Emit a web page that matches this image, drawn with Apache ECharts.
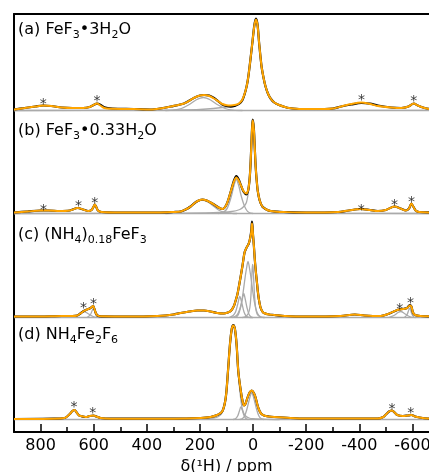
<!DOCTYPE html>
<html>
<head>
<meta charset="utf-8">
<script src="https://cdn.jsdelivr.net/npm/echarts@6/dist/echarts.min.js"></script>
<style>
  html, body { margin: 0; padding: 0; background: #fff; }
  #chart { width: 429px; height: 472px; }
</style>
</head>
<body>
<div id="chart"></div>
<script>
// ppm / intensity pairs

// (a) FeF3.3H2O
var fitA = [[900,1],[860,2.5],[820,4],[790,5],[760,4.5],[720,3],[680,2.5],[640,2.5],[615,3.5],[600,5.5],[588,7],[575,5],[560,2.5],[530,1.8],[450,1.5],[386,1],[350,2],[310,4],[260,7],[223,12.5],[200,15],[185,15.5],[165,14.5],[147,12],[130,9],[116,6.5],[100,5.3],[84,5],[65,5.8],[53,7],[40,11],[28,20],[20,30],[13,44],[3,67],[-5,85],[-11,91],[-17,85],[-23,67],[-32,44],[-40,32],[-47,24],[-56,17],[-66,12],[-80,8],[-98,5.5],[-120,3.5],[-135,2.5],[-182,1.5],[-270,1.5],[-300,2],[-332,4],[-370,6.5],[-408,8],[-440,6.5],[-470,4.5],[-520,3],[-558,2.5],[-585,4],[-605,7],[-620,5],[-646,2.5],[-665,1.5],[-700,0.8]];
var expA = [[900,1],[860,2.5],[820,4],[790,5],[760,4.5],[720,3],[680,2.5],[640,2.5],[615,3.5],[600,5.5],[588,6.8],[575,5.8],[560,3.2],[530,2],[450,1.5],[386,1],[350,2],[310,4],[260,7],[223,12.5],[200,15],[185,15.5],[165,15],[147,12.6],[130,9],[116,6],[100,4.5],[84,3.8],[65,5],[53,6.5],[40,10.5],[28,20],[20,30],[13,44],[3,67],[-5,85.5],[-11,92],[-17,85.5],[-23,67],[-32,44],[-40,32],[-47,24],[-56,17],[-66,12],[-80,8],[-98,5.5],[-120,3.5],[-135,2.5],[-182,1.5],[-270,1.5],[-300,2],[-332,4],[-370,6],[-408,7.5],[-440,6.8],[-470,5],[-520,3],[-558,2.5],[-585,4],[-605,7],[-620,5],[-646,2.5],[-665,1.5],[-700,0.8]];
var compA = [
  [[900,0],[400,0.3],[300,0.5],[200,1],[100,3.5],[60,6],[40,10],[28,19],[20,29],[13,43],[3,66],[-5,84],[-11,90],[-17,84],[-23,66],[-32,43],[-40,31],[-47,23],[-56,16],[-66,11.5],[-80,7.5],[-98,5],[-135,2.3],[-200,1],[-300,0.4],[-700,0]],
  [[330,0],[300,0.4],[270,2],[240,6],[215,10.5],[187,13],[160,10.5],[135,6],[105,2],[75,0.4],[40,0]]
];
var starsA = [[790,10.5],[588,13],[-408,14],[-605,13]];

// (b) FeF3.0.33H2O
var fitB = [[900,1],[850,2],[800,3],[770,3],[730,2.5],[690,3],[660,5.5],[640,4],[620,2.5],[608,3.5],[600,7],[596,9],[591,7],[584,3],[570,1.5],[500,1],[350,1],[300,1.5],[272,2],[250,4.5],[235,7],[215,11.5],[200,13.5],[191,14],[175,13],[160,11],[147,9],[130,6],[116,4.5],[100,9],[84,22],[72,32],[63,36],[54,33],[44,27],[35,22],[25,20],[20,22],[16,27],[12,38],[9,52],[6,72],[3,88],[1,93],[-3,84],[-6,68],[-10,46],[-14,32],[-18,22],[-25,13],[-35,7],[-50,4],[-66,2.5],[-90,1.8],[-115,1.5],[-200,1],[-320,1.5],[-360,3],[-405,4.5],[-440,3.5],[-470,2.5],[-500,3.5],[-532,7],[-555,5],[-575,3],[-587,5],[-596,10],[-603,7],[-612,3],[-625,1.5],[-700,1]];
var expB = [[900,1],[850,2],[800,3],[770,3],[730,2.5],[690,3],[660,5.5],[640,4],[620,2.5],[608,3.5],[600,7],[596,9],[591,7],[584,3],[570,1.5],[500,1],[350,1],[300,1.5],[272,2],[250,4.5],[235,7],[215,11.5],[200,13.5],[191,14],[175,13],[160,11],[147,9],[130,6],[116,4.5],[100,9],[84,22],[72,33],[63,37.5],[54,34],[44,27],[35,21.5],[25,19],[20,21.5],[16,27],[12,38],[9,52],[6,72],[3,89],[1,94],[-3,85],[-6,68],[-10,46],[-14,32],[-18,22],[-25,13],[-35,7],[-50,4],[-66,2.5],[-90,1.8],[-115,1.5],[-200,1],[-320,1.5],[-360,3],[-405,4.5],[-440,3.5],[-470,2.5],[-500,3.5],[-532,7],[-555,5],[-575,3],[-587,5],[-596,10],[-603,7],[-612,3],[-625,1.5],[-700,1]];
var compB = [
  [[900,0],[300,0.3],[150,0.8],[80,2],[50,4],[35,7],[25,11],[16,24],[12,36],[9,50],[6,70],[3,86],[1,91],[-3,83],[-6,67],[-10,45],[-14,31],[-18,21],[-25,12],[-35,6.5],[-50,3.5],[-66,2],[-100,1],[-200,0.4],[-700,0]],
  [[130,0],[115,1],[100,4],[90,10],[80,19],[72,28],[63,34],[54,28],[46,19],[36,10],[26,4],[15,1],[0,0]],
  [[330,0],[300,0.5],[270,2.7],[240,6.8],[215,11],[192,13.5],[170,11.5],[150,7.6],[130,3.5],[110,1.3],[80,0.2],[60,0]]
];
var starsB = [[789,7],[657,11],[596,14],[-407,7],[-532,12],[-596,15]];

// (c) (NH4)0.18FeF3
var fitC = [[900,1],[800,1],[720,1.5],[680,1.5],[662,2],[650,4],[637,6.5],[625,8],[612,9.5],[602,11.5],[598,9],[592,4.5],[586,2],[570,1.2],[450,1],[360,1.5],[330,2],[300,3],[273,4.5],[240,6],[210,7],[185,7],[160,6],[135,4.5],[110,4],[95,5],[84,6.5],[72,11.5],[66,16.5],[59,23],[53,31.5],[46,42],[40,51.5],[32,65],[26,69],[21,71.5],[16,74],[12,78],[8,83],[6,88],[4,94],[2,90],[0,82],[-3,72],[-6,60],[-10,47],[-15,34],[-18,26],[-22,18],[-28,10],[-35,6],[-41,4.5],[-60,3],[-80,2.5],[-120,1.5],[-200,1],[-330,1.5],[-383,3],[-420,2],[-480,1.5],[-508,3.5],[-530,6],[-549,8],[-565,8.5],[-580,9.5],[-590,12],[-596,11],[-602,5],[-610,2.5],[-630,1.5],[-700,1]];
var expC = [[900,1],[800,1],[720,1.5],[680,1.5],[662,2],[650,4],[637,6.5],[625,8],[612,9.5],[602,11.5],[598,9],[592,4.5],[586,2],[570,1.2],[450,1],[360,1.5],[330,2],[300,3],[273,4.5],[240,6],[210,7],[185,7],[160,6],[135,4.5],[110,4],[95,5],[84,6.5],[72,11.5],[66,16.5],[59,23],[53,31.5],[46,42],[40,51.5],[32,65],[26,69],[21,71.5],[16,74],[12,78],[8,84],[6,89],[4,96],[2,91],[0,82],[-3,72],[-6,60],[-10,47],[-15,34],[-18,26],[-22,18],[-28,10],[-35,6],[-41,4.5],[-60,3],[-80,2.5],[-120,1.5],[-200,1],[-330,1.5],[-383,3],[-420,2],[-480,1.5],[-508,3.5],[-530,6],[-549,8],[-565,8.5],[-580,9.5],[-590,12.5],[-596,11],[-602,5],[-610,2.5],[-630,1.5],[-700,1]];
var compC = [
  [[40,0],[28,1],[18,4],[12,10],[8,22],[5,40],[2,53],[0,50],[-3,35],[-6,20],[-10,9],[-16,3],[-28,0.5],[-40,0]],
  [[80,0],[65,1.5],[55,5],[45,13],[38,24],[32,36],[26,47],[19,56],[12,47],[6,36],[0,24],[-7,13],[-17,4],[-30,0.5],[-45,0]],
  [[90,0],[75,2],[66,5.5],[58,13],[50,21],[42,14],[34,5.5],[26,1.5],[15,0.2],[0,0]],
  [[65,0],[55,3],[47,10],[40,19],[35,24],[30,19],[23,10],[15,3],[5,0]],
  [[680,0],[662,2],[648,5],[637,6],[622,4],[606,1.5],[590,0]],
  [[625,0],[612,3],[604,8],[600,9],[594,4],[586,0.5],[578,0]],
  [[-510,0],[-530,2],[-546,5],[-556,6],[-570,4],[-585,1.5],[-600,0]],
  [[-570,0],[-580,3],[-587,8],[-591,9],[-597,4],[-605,0.5],[-612,0]]
];
var starsC = [[638,13],[601,17.5],[-552,12.5],[-593,18]];

// (d) NH4Fe2F6
var fitD = [[900,0.5],[750,0.8],[710,1.5],[700,3],[688,6],[680,8.5],[672,9.5],[664,7],[655,4],[649,3.5],[630,2.5],[615,3.5],[601,4],[590,3],[574,1.5],[536,0.8],[300,0.8],[197,1.5],[160,2.5],[135,4.5],[116,8],[103,21.5],[94.5,48],[87,75],[80,91],[74,94],[68,90],[62,75],[55.5,48],[47,30],[40,19],[34,14],[28,16],[21.5,21.5],[13,27],[5,29],[-3,26.5],[-10,21.5],[-16,15],[-22,10],[-30,6],[-41,4],[-60,3],[-79,2.5],[-141,1.5],[-200,1],[-470,1],[-490,2.5],[-502,5.5],[-512,8],[-523,9],[-533,7],[-543,4.5],[-564,3.5],[-582,4],[-596,4.5],[-610,3],[-627,2],[-658,1],[-700,0.8]];
var expD = [[900,0.5],[750,0.8],[710,1.5],[700,3],[688,6],[680,8.5],[672,9.5],[664,7],[655,4],[649,3.5],[630,2.5],[615,3.5],[601,4],[590,3],[574,1.5],[536,0.8],[300,0.8],[197,1.5],[160,2.5],[135,4.5],[116,8],[103,21.5],[94.5,48],[87,75],[80,91],[74,94.5],[68,90],[62,75],[55.5,48],[47,30],[40,19],[34,14],[28,16],[21.5,21.5],[13,27],[5,29],[-3,26.5],[-10,21.5],[-16,15],[-22,10],[-30,6],[-41,4],[-60,3],[-79,2.5],[-141,1.5],[-200,1],[-470,1],[-490,2.5],[-502,5.5],[-512,8],[-523,9],[-533,7],[-543,4.5],[-564,3.5],[-582,4],[-596,4.5],[-610,3],[-627,2],[-658,1],[-700,0.8]];
var compD = [
  [[200,0.5],[150,1.5],[130,3],[116,7],[103,20],[94.5,46],[87,73],[80,89],[74,93],[68,89],[62,73],[55.5,46],[47,22],[40,10],[30,4],[15,1.5],[0,0.8],[-50,0.2],[-100,0]],
  [[50,0],[40,1],[32,3.5],[24,9.5],[16,18],[10,24],[5,27],[0,24],[-6,18],[-14,9.5],[-22,3.5],[-30,1],[-40,0]],
  [[75,0],[65,1],[58,3.5],[52,8],[46,12.5],[40,9],[34,4],[27,1],[18,0]]
];
var starsD = [[674,16],[604,10.5],[-523,14.5],[-594,10]];

var majorTicks = [800, 600, 400, 200, 0, -200, -400, -600];
var minorTicks = [700, 500, 300, 100, -100, -300, -500];

var labels = [
  '{n|(a) FeF}{s|3}{n|•3H}{s|2}{n|O}',
  '{n|(b) FeF}{s|3}{n|•0.33H}{s|2}{n|O}',
  '{n|(c) (NH}{s|4}{n|)}{s|0.18}{n|FeF}{s|3}',
  '{n|(d) NH}{s|4}{n|Fe}{s|2}{n|F}{s|6}'
];

var panels = [
  { fit: fitA, exp: expA, comps: compA, stars: starsA },
  { fit: fitB, exp: expB, comps: compB, stars: starsB },
  { fit: fitC, exp: expC, comps: compC, stars: starsC },
  { fit: fitD, exp: expD, comps: compD, stars: starsD }
];

// vertical stacking offsets of the four traces
var offsets = [321.5, 218.5, 114.5, 12.5];
var labelTop = [22, 123, 227, 327];

var FONT = 'DejaVu Sans';
var chart = echarts.init(document.getElementById('chart'));

function shift(d, off) {
  return d.map(function (p) { return [p[0], p[1] + off]; });
}

var series = [];
panels.forEach(function (p, i) {
  var off = offsets[i];
  series.push({
    type: 'line', data: [[900, off], [-700, off]], symbol: 'none', silent: true,
    lineStyle: { color: '#aaaaaa', width: 1.3 }, z: 1
  });
  p.comps.forEach(function (c) {
    series.push({
      type: 'line', data: shift(c, off), symbol: 'none', smooth: 0.3, silent: true,
      lineStyle: { color: '#aaaaaa', width: 1.3 }, z: 1
    });
  });
  series.push({
    type: 'line', data: shift(p.exp, off), symbol: 'none', smooth: 0.3,
    lineStyle: { color: '#000000', width: 2.2 }, z: 2
  });
  series.push({
    type: 'line', data: shift(p.fit, off), symbol: 'none', smooth: 0.3,
    lineStyle: { color: '#ffa500', width: 2 }, z: 3
  });
  series.push({
    type: 'scatter', data: shift(p.stars, off), symbolSize: 0, z: 4,
    label: {
      show: true, position: 'inside', formatter: '*', offset: [0, 4],
      fontFamily: FONT, fontSize: 14, color: '#000'
    }
  });
});

var graphics = labels.map(function (t, i) {
  return {
    type: 'text', left: 18, top: labelTop[i], z: 10,
    style: {
      text: t,
      rich: {
        n: { fontFamily: FONT, fontSize: 16, lineHeight: 22, fill: '#000', verticalAlign: 'middle' },
        s: { fontFamily: FONT, fontSize: 11, lineHeight: 11, fill: '#000', verticalAlign: 'bottom' }
      }
    }
  };
});

var option = {
  animation: false,
  backgroundColor: '#ffffff',
  grid: { left: 14, right: -10, top: 14, bottom: 40, containLabel: false, outerBoundsMode: 'none' },
  xAxis: [
    {
      type: 'value', inverse: true, min: -700, max: 900, position: 'bottom',
      axisLine: { show: true, onZero: false, lineStyle: { color: '#000', width: 2 } },
      axisTick: { show: true, inside: true, length: 8, lineStyle: { color: '#000', width: 1.5 }, customValues: majorTicks },
      axisLabel: { show: true, customValues: majorTicks, margin: 6, fontFamily: FONT, fontSize: 16, color: '#000' },
      splitLine: { show: false },
      name: 'δ(¹H) / ppm', nameLocation: 'middle', nameGap: 26,
      nameTextStyle: { fontFamily: FONT, fontSize: 16, color: '#000' }
    },
    {
      type: 'value', inverse: true, min: -700, max: 900, position: 'bottom', offset: 0,
      axisLine: { show: false, onZero: false },
      axisTick: { show: true, inside: true, length: 5, lineStyle: { color: '#000', width: 1.5 }, customValues: minorTicks },
      axisLabel: { show: false },
      splitLine: { show: false }
    },
    {
      type: 'value', inverse: true, min: -700, max: 900, position: 'top',
      axisLine: { show: true, onZero: false, lineStyle: { color: '#000', width: 2 } },
      axisTick: { show: false }, axisLabel: { show: false }, splitLine: { show: false }
    }
  ],
  yAxis: {
    type: 'value', min: 0, max: 418, position: 'left',
    axisLine: { show: true, onZero: false, lineStyle: { color: '#000', width: 2 } },
    axisTick: { show: false }, axisLabel: { show: false }, splitLine: { show: false }
  },
  graphic: graphics,
  series: series
};

chart.setOption(option);
</script>
</body>
</html>
